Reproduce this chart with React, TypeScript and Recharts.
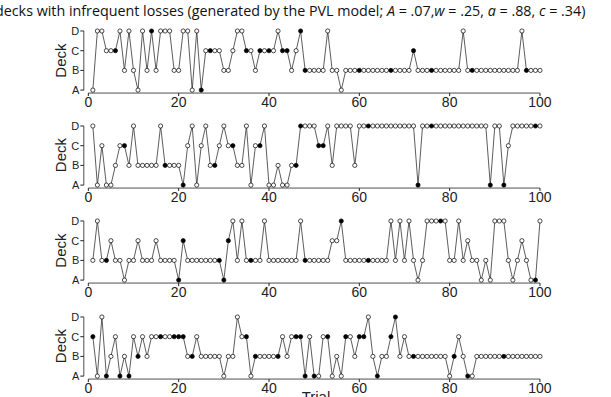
import React from "react";
import { LineChart, Line, XAxis, YAxis, ReferenceLine } from "recharts";

// deck choices per trial, 10 trials per string
const decks1 = ["ADDCCCDBDB", "ADBDBDDDBB", "DDADACCCCB", "BCDDCCBCCC", "CDCCBCDBBB", "BBDBBABBBB", "BBBBBBBBBB", "BCBBBBBBBB", "BBDBBBBBBB", "BBBBBDBBBB"];
const decks2 = ["DACAABCCBD", "BBBBBDBBBB", "ACDACDBBCD", "CCBBDACCDA", "ABAABBDDDD", "CCDBDDDDBD", "DDDDDDDDDD", "DDADDDDDDD", "DDDDDDDDAD", "DACDDDDDDD"];
const decks3 = ["BDBBCBBABB", "CBBBCBBBBA", "CBBBBBBBBA", "CDBDBBBBDB", "BBBBBBDBBB", "BBBCCDBBBB", "BBBBBBDBDB", "DBABDDDDDB", "BDBCBBABAD", "DDBABCBAAD"];
const decks4 = ["CADABCABAC", "BCBCCCCCCC", "CBBCBBBBBA", "BBDCCABBBB", "BBCBCCCACA", "ACCABACCBC", "CDBABBCDBC", "BBBBBBBBBA", "BCBAABBBBB", "BBBBBBBBBB"];

// trials drawn with a filled circle
const filled1 = [6, 14, 25, 27, 35, 38, 40, 43, 44, 47, 48, 60, 67, 72, 76, 85, 97];
const filled2 = [8, 17, 21, 28, 32, 38, 46, 47, 51, 52, 62, 73, 76, 89, 92, 99];
const filled3 = [4, 20, 21, 29, 30, 31, 36, 48, 56, 62, 78, 99];
const filled4 = [1, 4, 7, 9, 11, 16, 19, 20, 21, 23, 35, 37, 42, 46, 47, 48, 50, 53, 57, 60, 61, 64, 67, 68, 72, 81, 84, 92];

const deckLabels = ["A", "B", "C", "D"];
const trialTicks = [0, 20, 40, 60, 80, 100];

const buildRows = (decks: string[], filled: number[]) =>
  decks
    .join("")
    .split("")
    .map((d, i) => ({
      trial: i + 1,
      deck: deckLabels.indexOf(d),
      filled: filled.includes(i + 1),
    }));

const panels = [
  { rows: buildRows(decks1, filled1), top: 31 },
  { rows: buildRows(decks2, filled2), top: 125.5 },
  { rows: buildRows(decks3, filled3), top: 221 },
  { rows: buildRows(decks4, filled4), top: 316.5 },
];

const LEVEL = 19.7;
const PAD = 10;
const Y_MIN = -0.15;
const axisFont = "'Liberation Sans', Arial, sans-serif";

const renderDot = (props: any) => {
  const { cx, cy, payload, index } = props;
  return (
    <circle
      key={index}
      cx={cx}
      cy={cy}
      r={2.1}
      fill={payload.filled ? "#000" : "#fff"}
      stroke="#000"
      strokeWidth={0.7}
    />
  );
};

function Panel({ rows, top }: { rows: any[]; top: number }) {
  const plotH = (3 - Y_MIN) * LEVEL;
  return (
    <div style={{ position: "absolute", left: 0, top: top - PAD }}>
      <LineChart
        width={611}
        height={PAD + plotH + 30}
        data={rows}
        margin={{ top: PAD, right: 71, bottom: 0, left: 0 }}
      >
        <XAxis
          type="number"
          dataKey="trial"
          domain={[-1, 100]}
          ticks={trialTicks}
          interval={0}
          axisLine={false}
          tickSize={3}
          tickMargin={1}
          height={30}
          tickLine={{ stroke: "#222" }}
          tick={{ fontSize: 14, fill: "#222", fontFamily: axisFont }}
        />
        <YAxis
          type="number"
          domain={[Y_MIN, 3]}
          ticks={[0, 1, 2, 3]}
          interval={0}
          tickFormatter={(v) => deckLabels[v]}
          width={83.8}
          axisLine={false}
          tickSize={3.5}
          tickMargin={1}
          tickLine={{ stroke: "#222" }}
          tick={{ fontSize: 11, fill: "#222", fontFamily: axisFont }}
        />
        <ReferenceLine
          segment={[{ x: 0, y: Y_MIN }, { x: 100, y: Y_MIN }]}
          stroke="#222"
          strokeWidth={0.8}
          ifOverflow="visible"
        />
        <ReferenceLine
          segment={[{ x: -1, y: 0 }, { x: -1, y: 3 }]}
          stroke="#222"
          strokeWidth={0.8}
          ifOverflow="visible"
        />
        <Line
          type="linear"
          dataKey="deck"
          stroke="#333"
          strokeWidth={0.8}
          dot={renderDot}
          activeDot={false}
          isAnimationActive={false}
        />
      </LineChart>
    </div>
  );
}

export default function App() {
  return (
    <div
      style={{
        position: "fixed",
        left: 0,
        top: 0,
        width: 611,
        height: 397,
        background: "#fff",
        overflow: "hidden",
      }}
    >
      {panels.map((p, i) => (
        <Panel key={i} rows={p.rows} top={p.top} />
      ))}
      <svg width={611} height={397} style={{ position: "absolute", left: 0, top: 0, pointerEvents: "none" }}>
        <text x={-5} y={16} fontSize={14.3} fontFamily="'Open Sans', sans-serif" fill="#111">
          decks with infrequent losses (generated by the PVL model; <tspan fontStyle="italic">A</tspan> = .07,
          <tspan fontStyle="italic">w</tspan> = .25, <tspan fontStyle="italic">a</tspan> = .88,{" "}
          <tspan fontStyle="italic">c</tspan> = .34)
        </text>
        {panels.map((p, i) => (
          <text
            key={i}
            transform={`translate(66, ${p.top + 1.5 * LEVEL}) rotate(-90)`}
            textAnchor="middle"
            fontSize={15}
            fontFamily={axisFont}
            fill="#222"
          >
            Deck
          </text>
        ))}
        <text x={316} y={402} textAnchor="middle" fontSize={15} fontFamily={axisFont} fill="#222">
          Trial
        </text>
      </svg>
    </div>
  );
}
